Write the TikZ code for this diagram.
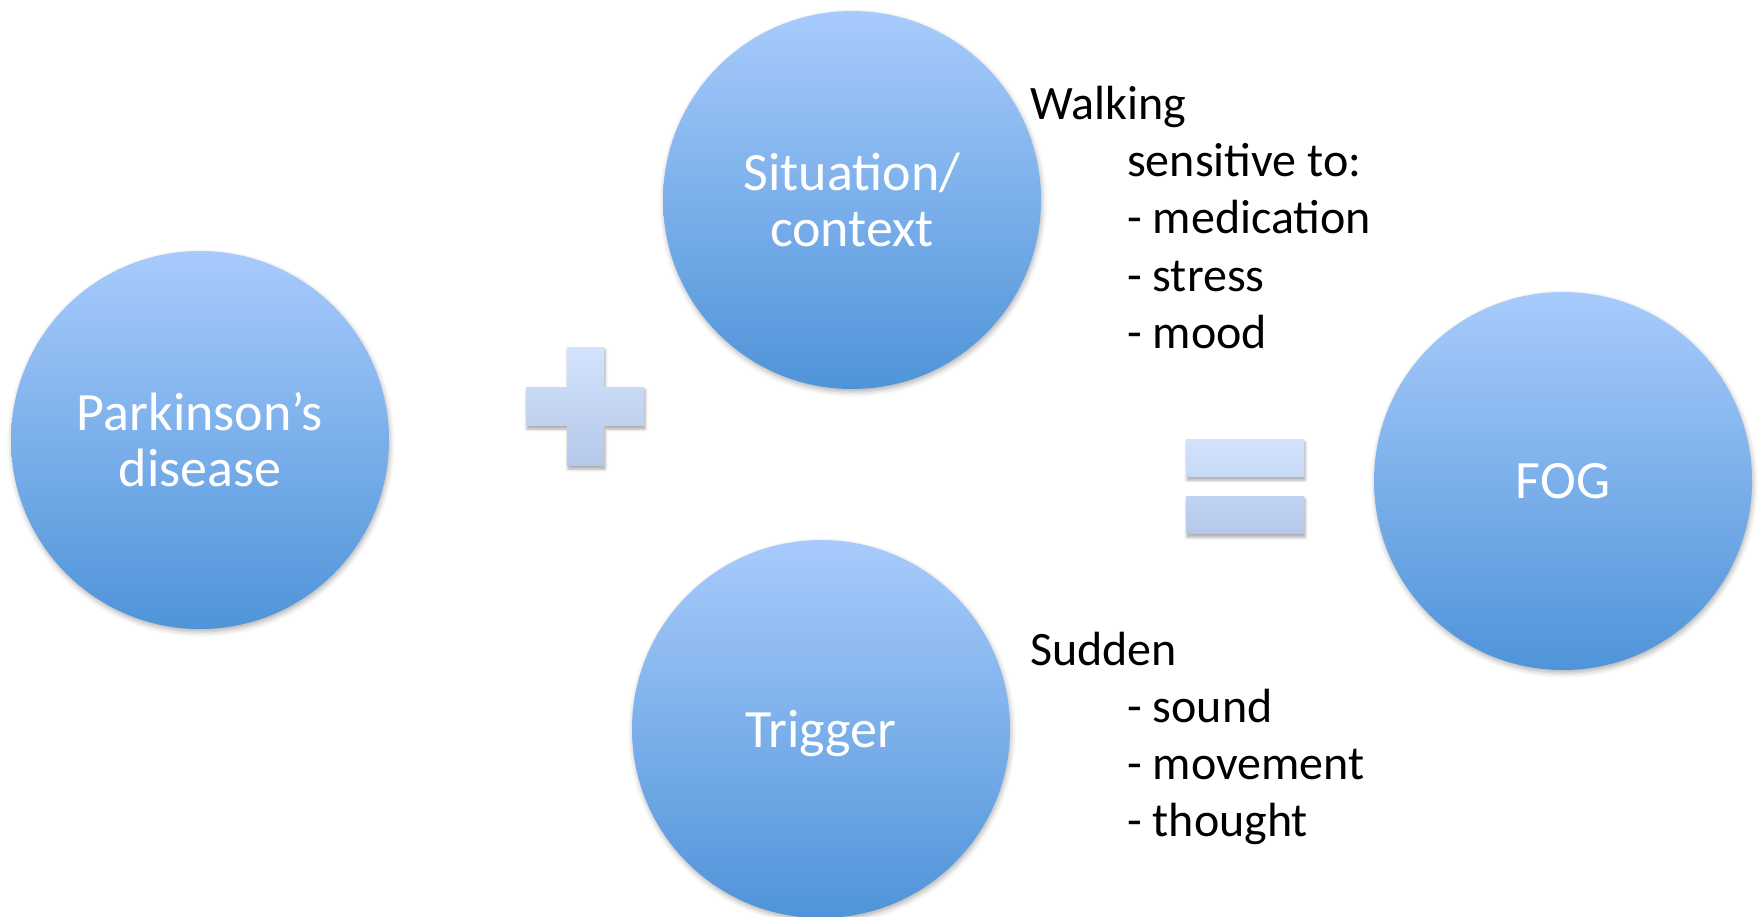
\documentclass[tikz,border=0pt]{standalone}
\usepackage{fontspec}
\setmainfont{Carlito}
\usetikzlibrary{shadows.blur, positioning}
\definecolor{circtop}{HTML}{A8CBFC}
\definecolor{circbot}{HTML}{4F94D9}
\definecolor{signtop}{HTML}{D3E3FD}
\definecolor{signbot}{HTML}{B5C8E9}

\begin{document}
\begin{tikzpicture}[
    x=1pt,
    y=-1pt,
    bubble/.style={circle, minimum size=378pt, inner sep=0pt, top color=circtop, bottom color=circbot, draw=none, text=white, align=center, font=\fontsize{54}{56}\selectfont, blur shadow={shadow xshift=1pt, shadow yshift=-3pt, shadow blur radius=5pt, shadow opacity=30}},
    sign/.style={top color=signtop, bottom color=signbot, draw=none, blur shadow={shadow xshift=1pt, shadow yshift=-3pt, shadow blur radius=3pt, shadow opacity=35}},
    sidetext/.style={anchor=base west, inner sep=0pt, font=\fontsize{48}{57}\selectfont}
]
\useasboundingbox (0,0) rectangle (1758,916);

% Circles
\node [bubble] (pd) at (200,440) {Parkinson’s\\disease};
\node [bubble] (situation) at (852,200) {Situation/\\context};
\node [bubble, text depth=0pt] (trigger) at (821,729) {Trigger};
\node [bubble] (fog) at (1563,481) {FOG};

% Plus and equals signs
\path [sign] (567,347) -- (604,347) -- (604,387) -- (644,387) -- (644,426) -- (604,426)
    -- (604,466) -- (567,466) -- (567,426) -- (526,426) -- (526,387) -- (567,387) -- cycle;
\path [sign] (1186,439) rectangle (1304,477) (1186,496) rectangle (1304,534);

% Side notes
\node [sidetext] (walking) at (1030,119) {Walking};
\foreach \t [count=\i] in {sensitive to:, - medication, - stress, - mood} {
    \node [sidetext] (walking\i) at (1127,119+\i*57.4) {\t};
}
\node [sidetext] (sudden) at (1030,665) {Sudden};
\foreach \t [count=\i] in {- sound, - movement, - thought} {
    \node [sidetext] (sudden\i) at (1127,665+\i*57) {\t};
}

\end{tikzpicture}
\end{document}
